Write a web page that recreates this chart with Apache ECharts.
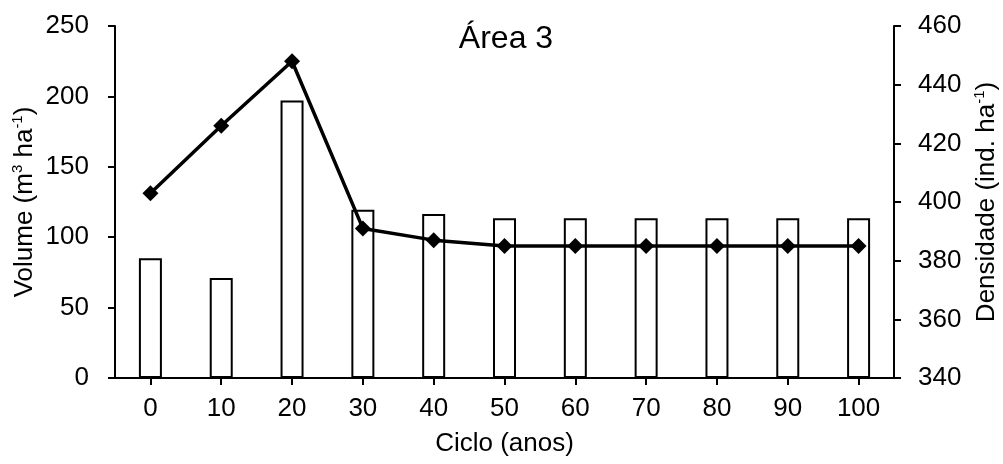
<!DOCTYPE html>
<html>
<head>
<meta charset="utf-8">
<script src="https://cdn.jsdelivr.net/npm/echarts@6/dist/echarts.min.js"></script>
<style>html,body{margin:0;padding:0;background:#fff}#c{width:1003px;height:464px}</style>
</head>
<body>
<div id="c"></div>
<script>
const categories = ['0','10','20','30','40','50','60','70','80','90','100'];
const volume = [85, 71, 197, 119.5, 116.5, 113.5, 113.5, 113.5, 113.5, 113.5, 113.5];
const density = [403, 426, 448, 391, 387, 385, 385, 385, 385, 385, 385];
const leftTicks = {min: 0, max: 250, interval: 50};
const rightTicks = {min: 340, max: 460, interval: 20};

const FONT = '"Liberation Sans", Arial, sans-serif';
const chart = echarts.init(document.getElementById('c'), null, {renderer: 'canvas'});
const axisCommon = {
  axisLine: {show: true, lineStyle: {color: '#000', width: 2}},
  axisTick: {show: true, inside: false, length: 7, lineStyle: {color: '#000', width: 2}},
  splitLine: {show: false},
  axisLabel: {color: '#000', fontSize: 26, fontFamily: FONT}
};
const richName = {
  fontSize: 26, fontFamily: FONT, color: '#000', lineHeight: 30,
  rich: {
    sup: {fontSize: 15, fontFamily: FONT, color: '#000', lineHeight: 15, verticalAlign: 'top'}
  }
};
chart.setOption({
  animation: false,
  backgroundColor: '#fff',
  title: {
    text: 'Área 3', left: 501, top: 18, textAlign: 'center',
    textStyle: {fontSize: 32, fontWeight: 'normal', fontFamily: FONT, color: '#000'}
  },
  grid: {left: 115, right: 109, top: 26, bottom: 86, containLabel: false, outerBoundsMode: 'none'},
  xAxis: {
    type: 'category', data: categories, boundaryGap: true,
    name: 'Ciclo (anos)', nameLocation: 'middle', nameGap: 53, nameMoveOverlap: false,
    nameTextStyle: {fontSize: 26, fontFamily: FONT, color: '#000'},
    axisLine: axisCommon.axisLine,
    axisTick: {show: true, alignWithLabel: true, length: 7, lineStyle: {color: '#000', width: 2}},
    axisLabel: Object.assign({}, axisCommon.axisLabel, {margin: 18, interval: 0}),
    splitLine: {show: false}
  },
  yAxis: [
    Object.assign({}, axisCommon, {
      type: 'value', position: 'left', min: leftTicks.min, max: leftTicks.max, interval: leftTicks.interval,
      name: 'Volume (m{sup|3} ha{sup|-1})', nameLocation: 'middle', nameGap: 75, nameMoveOverlap: false,
      nameTextStyle: richName,
      axisLabel: Object.assign({}, axisCommon.axisLabel, {margin: 26})
    }),
    Object.assign({}, axisCommon, {
      type: 'value', position: 'right', min: rightTicks.min, max: rightTicks.max, interval: rightTicks.interval,
      name: 'Densidade (ind. ha{sup|-1})', nameLocation: 'middle', nameGap: 78, nameMoveOverlap: false,
      nameTextStyle: richName,
      axisLabel: Object.assign({}, axisCommon.axisLabel, {margin: 24})
    })
  ],
  series: [
    {
      type: 'bar', name: 'Volume', yAxisIndex: 0, data: volume, barWidth: 23,
      itemStyle: {color: '#fff', borderColor: '#000', borderWidth: 2},
      z: 2
    },
    {
      type: 'line', name: 'Densidade', yAxisIndex: 1, data: density,
      symbol: 'diamond', symbolSize: 16,
      lineStyle: {color: '#000', width: 3.5},
      itemStyle: {color: '#000'},
      z: 3
    }
  ]
});
</script>
</body>
</html>
